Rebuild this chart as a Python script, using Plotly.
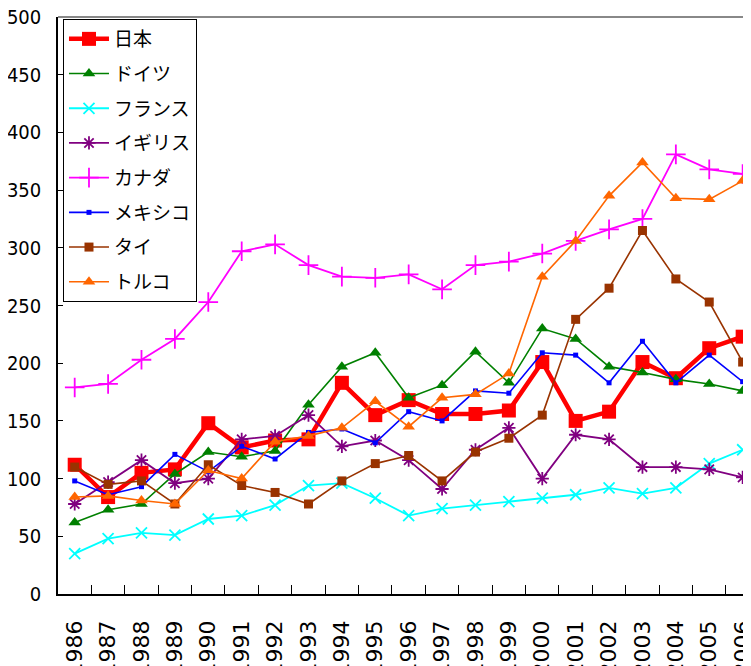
import plotly.graph_objects as go

years = [str(y) for y in range(1986, 2007)]

japan   = [112, 84, 105, 108, 148, 127, 133, 134, 183, 155, 168, 156, 156, 159, 201, 150, 158, 201, 187, 213, 223]
germany = [62, 73, 78, 104, 123, 119, 124, 164, 197, 209, 170, 181, 210, 183, 230, 221, 197, 192, 186, 182, 176]
france  = [35, 48, 53, 51, 65, 68, 77, 94, 96, 83, 68, 74, 77, 80, 83, 86, 92, 87, 92, 113, 125]
uk      = [78, 97, 116, 96, 100, 134, 137, 155, 128, 133, 116, 91, 125, 144, 100, 138, 134, 110, 110, 108, 101]
canada  = [179, 182, 203, 221, 253, 297, 303, 285, 275, 274, 277, 264, 285, 288, 295, 306, 316, 325, 381, 368, 364]
mexico  = [98, 86, 93, 121, 106, 128, 117, 140, 143, 131, 158, 150, 176, 174, 209, 207, 183, 219, 183, 207, 184]
thai    = [110, 95, 98, 78, 112, 94, 88, 78, 98, 113, 120, 98, 123, 135, 155, 238, 265, 315, 273, 253, 201]
turkey  = [84, 85, 81, 78, 107, 100, 132, 137, 144, 167, 145, 170, 173, 191, 275, 306, 345, 374, 343, 342, 358]

names = ["日本", "ドイツ", "フランス", "イギリス", "カナダ", "メキシコ", "タイ", "トルコ"]

series = [
    (names[0], japan,   "#FF0000", "square",          14, 4.5),
    (names[1], germany, "#008000", "triangle-up",     11, 1.6),
    (names[2], france,  "#00FFFF", "x-thin-open",     11, 1.8),
    (names[3], uk,      "#800080", "asterisk-open",   11, 1.8),
    (names[4], canada,  "#FF00FF", "cross-thin-open", 14, 1.8),
    (names[5], mexico,  "#0000FF", "square",           5, 1.6),
    (names[6], thai,    "#993300", "square",           9, 1.6),
    (names[7], turkey,  "#FF6600", "triangle-up",     11, 1.6),
]

fig = go.Figure()
for i, (nm, vals, col, sym, msize, lw) in enumerate(series):
    mline = dict(color=col, width=1.8) if "open" in sym else dict(width=0)
    fig.add_trace(go.Scatter(
        x=years, y=vals, name=nm, mode="lines+markers",
        line=dict(color=col, width=lw),
        marker=dict(symbol=sym, size=msize, color=col, line=mline),
        legendgroup="g%d" % i,
    ))

fig.update_layout(
    width=743, height=658,
    margin=dict(l=50, r=0, t=9, b=72, pad=0),
    plot_bgcolor="white", paper_bgcolor="white",
    font=dict(family="Liberation Sans, Arial, sans-serif", color="black"),
    showlegend=True,
    legend=dict(
        x=0.0072, y=0.9965, xanchor="left", yanchor="top",
        bgcolor="white", bordercolor="black", borderwidth=1,
        font=dict(family="Noto Sans CJK JP", size=19, color="black"),
        tracegroupgap=7, itemwidth=40,
    ),
    xaxis=dict(
        type="category", range=[-0.5, 20.25],
        showline=True, linecolor="black", linewidth=1.5,
        ticks="inside", ticklen=9, tickcolor="black", tickwidth=1,
        tickson="boundaries",
        tickangle=-90, tickfont=dict(family="DejaVu Sans, sans-serif", size=22, color="black"),
        ticklabelstandoff=16, ticklabeloverflow="allow",
        showgrid=False, zeroline=False, automargin=False,
    ),
    yaxis=dict(
        range=[0, 500], tickvals=[0, 50, 100, 150, 200, 250, 300, 350, 400, 450, 500],
        showline=True, linecolor="black", linewidth=1.5,
        ticks="inside", ticklen=5, tickcolor="black", tickwidth=1,
        tickfont=dict(family="Liberation Sans Narrow, Arial Narrow, DejaVu Sans Condensed, sans-serif", size=20, color="black"),
        ticklabelstandoff=11, ticklabeloverflow="allow",
        showgrid=False, zeroline=False, automargin=False,
    ),
    shapes=[dict(type="line", xref="paper", yref="paper", x0=0, x1=1, y0=1, y1=1,
                 line=dict(color="#888888", width=2))],
)

fig.write_html("out.html")
